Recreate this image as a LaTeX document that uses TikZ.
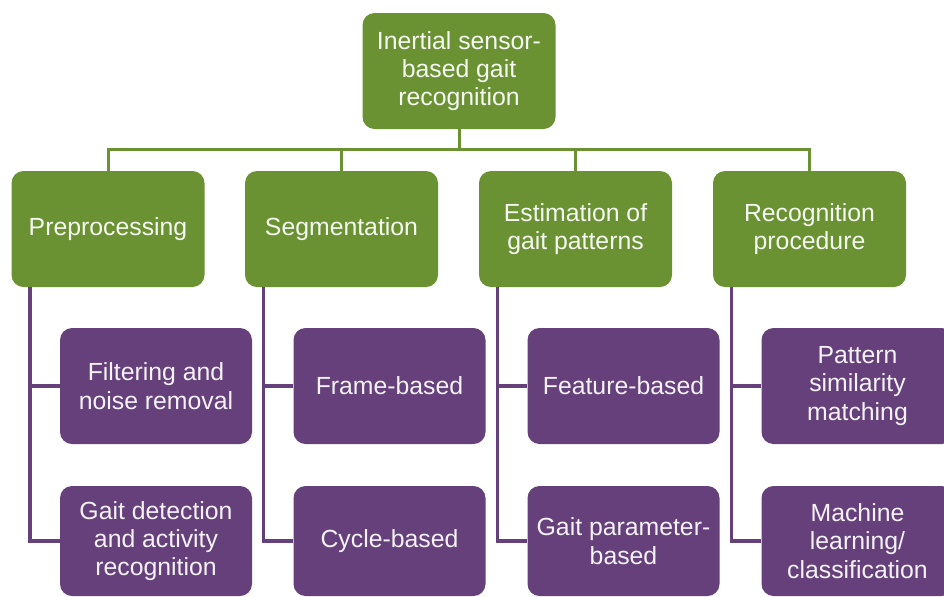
\documentclass[tikz,border=0pt]{standalone}
\usepackage{fontspec}
\setmainfont{Liberation Sans}
\usetikzlibrary{positioning}
\definecolor{leafgreen}{RGB}{106,146,50}
\definecolor{plum}{RGB}{101,64,122}
\begin{document}
\begin{tikzpicture}[x=1pt,y=1pt,node distance=2cm,on grid,
    stagebox/.style={rectangle,rounded corners=6pt,fill=leafgreen,text=white!94!leafgreen,
      minimum width=96.5pt,minimum height=58pt,align=center,inner sep=2pt,
      font=\fontsize{12.4}{14.2}\selectfont},
    subbox/.style={stagebox,fill=plum,text=white!93!plum,minimum width=96pt}]
  \useasboundingbox (0,0) rectangle (472,-298);
  \clip (0,0) rectangle (472,-298);
			  \node[stagebox]  (root) at (229.5,-35.5)     {Inertial sensor-\\based gait\\recognition};
			  \node[stagebox]  (pre)  at (54,-114.5)       {Preprocessing};
			  \node[stagebox]  (seg)  [right=116.75pt of pre]  {Segmentation};
			  \node[stagebox]  (est)  [right=117pt of seg]     {Estimation of\\gait patterns};
			  \node[stagebox]  (rec)  [right=117pt of est]     {Recognition\\procedure};
			  \node[subbox]    (fil)  [below right=78.5pt and 24pt of pre]  {Filtering and\\noise removal};
			  \node[subbox]    (gad)  [below=77.5pt of fil,minimum height=55pt]  {Gait detection\\and activity\\recognition};
			  \node[subbox]    (fra)  [below right=78.5pt and 24pt of seg]  {Frame-based};
			  \node[subbox]    (cyc)  [below=77.5pt of fra,minimum height=55pt]  {Cycle-based};
			  \node[subbox]    (fea)  [below right=78.5pt and 24pt of est]  {Feature-based};
			  \node[subbox]    (gpb)  [below=77.5pt of fea,minimum height=55pt]  {Gait parameter-\\based};
			  \node[subbox]    (pat)  [below right=78.5pt and 24pt of rec]  {Pattern\\similarity\\matching};
			  \node[subbox]    (mlc)  [below=77.5pt of pat,minimum height=55pt]  {Machine\\learning/\\classification};

			\tikzset{trunk/.style={-,leafgreen,line width=1.5pt,
			    to path={(\tikztostart.south) -- ++(0,-10) -| (\tikztotarget.north)}},
			  twig/.style={-,plum,line width=1.8pt,
			    to path={([xshift=9.5pt]\tikztostart.south west) |- (\tikztotarget.west)}}}
			\path (root)   edge [trunk]   (pre)
				  (root)   edge [trunk]   (seg)
				  (root)   edge [trunk]   (est)
				  (root)   edge [trunk]   (rec)
				  (pre)    edge [twig]    (fil)
				  (pre)    edge [twig]    (gad)
				  (seg)    edge [twig]    (fra)
				  (seg)    edge [twig]    (cyc)
				  (est)    edge [twig]    (fea)
				  (est)    edge [twig]    (gpb)
				  (rec)    edge [twig]    (pat)
				  (rec)    edge [twig]    (mlc);
\end{tikzpicture}
\end{document}
